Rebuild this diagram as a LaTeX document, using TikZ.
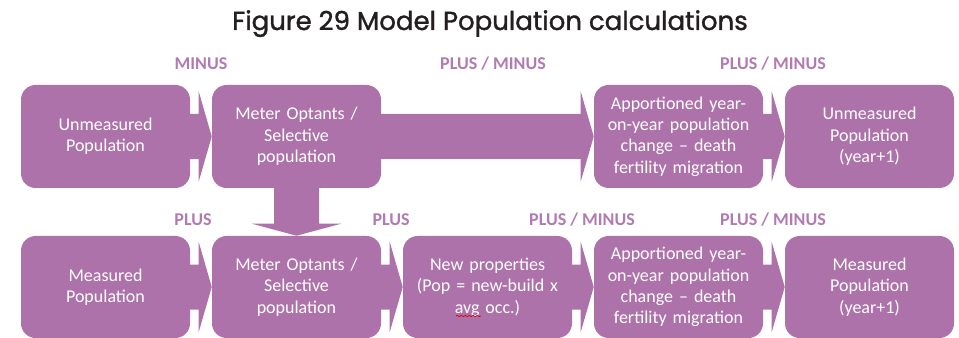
\documentclass[tikz,border=0pt]{standalone}
\usepackage{fontspec}
\setmainfont{Carlito}
\newfontfamily\titlefont{Poppins}[FakeBold=1.3]
\usetikzlibrary{calc,backgrounds,decorations.pathmorphing}
\definecolor{boxc}{RGB}{173,114,169}
\definecolor{labc}{RGB}{178,122,178}
\definecolor{titc}{RGB}{35,31,32}
\newcommand{\harrow}[2]{%
  \fill[boxc] ($(#1.east)+(-6,-22.5)$) -- ($(#2.west)+(-13,-22.5)$) -- ($(#2.west)+(-13,-45)$) --
  (#2.west) -- ($(#2.west)+(-13,45)$) -- ($(#2.west)+(-13,22.5)$) -- ($(#1.east)+(-6,22.5)$) -- cycle;}
\newcommand{\varrow}[2]{%
  \fill[boxc] ($(#1.south)+(-22.5,-6)$) -- ($(#2.north)+(-22.5,-12)$) -- ($(#2.north)+(-44.5,-12)$) --
  (#2.north) -- ($(#2.north)+(44.5,-12)$) -- ($(#2.north)+(22.5,-12)$) -- ($(#1.south)+(22.5,-6)$) -- cycle;}
\begin{document}
\begin{tikzpicture}[x=0.75pt,y=-0.75pt,
  box/.style={fill=boxc, rounded corners=11pt, minimum width=126.75pt, minimum height=77.25pt,
    inner sep=0pt, text width=124pt, align=center, text=white, font=\fontsize{13.5}{16}\selectfont},
  lowbox/.style={box, minimum height=76.5pt},
  lab/.style={text=labc, anchor=base, inner sep=0pt, font=\fontsize{13.5}{16}\selectfont\bfseries}]
\useasboundingbox (0,0) rectangle (959,338);
\node[anchor=base, inner sep=0pt, text=titc, font=\titlefont\fontsize{19.5}{24}\selectfont] (title) at (490,30) {Figure 29 Model Population calculations};
% top row
\node[box] (t1) at (105.5,136.5) {Unmeasured\\Population};
\node[box] (t2) at (296.5,136.5) {Meter Optants /\\Selective\\population};
\node[box] (t3) at (678.5,136.5) {Apportioned year-\\on-year population\\change -- death\\fertility migration};
\node[box] (t4) at (869.5,136.5) {Unmeasured\\Population\\(year+1)};
% bottom row
\node[lowbox] (b1) at (105.5,287) {Measured\\Population};
\node[lowbox] (b2) at (296.5,287) {Meter Optants /\\Selective\\population};
\node[lowbox] (b3) at (487.5,287) {New properties\\(Pop = new-build x\\avg occ.)};
\node[lowbox] (b4) at (678.5,287) {Apportioned year-\\on-year population\\change -- death\\fertility migration};
\node[lowbox] (b5) at (869.5,287) {Measured\\Population\\(year+1)};
% labels
\node[lab] (l1) at (201,70) {MINUS};
\node[lab] (l2) at (493,70) {PLUS / MINUS};
\node[lab] (l3) at (773,70) {PLUS / MINUS};
\node[lab] (l4) at (193,226) {PLUS};
\node[lab] (l5) at (391,226) {PLUS};
\node[lab] (l6) at (582,226) {PLUS / MINUS};
\node[lab] (l7) at (773,226) {PLUS / MINUS};
\draw[red!85!black, line width=0.5pt, decorate, decoration={snake, amplitude=0.5pt, segment length=3pt}]
  ($(b3.center)+(-31.5,29)$) -- ($(b3.center)+(-6.5,29)$);
\begin{scope}[on background layer]
  \harrow{t1}{t2}
  \harrow{t2}{t3}
  \harrow{t3}{t4}
  \harrow{b1}{b2}
  \harrow{b2}{b3}
  \harrow{b3}{b4}
  \harrow{b4}{b5}
  \varrow{t2}{b2}
\end{scope}
\end{tikzpicture}
\end{document}
